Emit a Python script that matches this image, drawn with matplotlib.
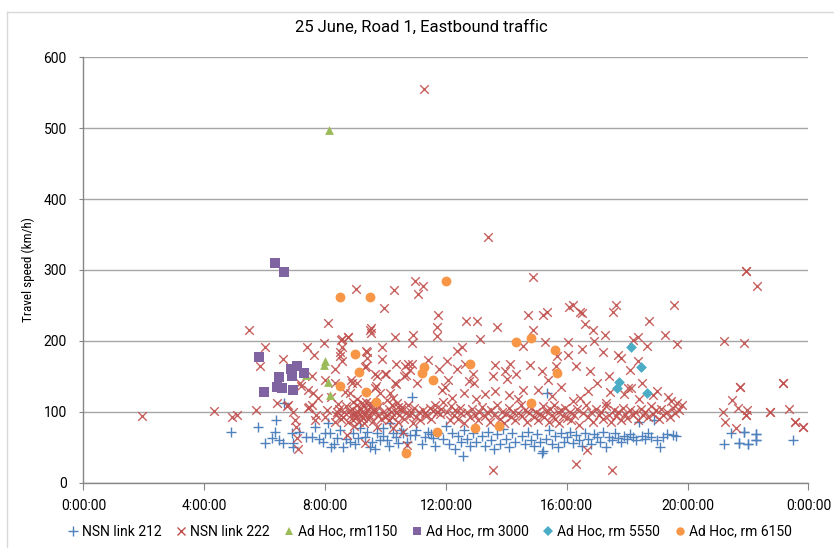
import matplotlib.pyplot as plt
from matplotlib.lines import Line2D

plt.rcParams['font.family'] = ['Roboto', 'DejaVu Sans']
narrow_font = ['Roboto Condensed', 'Roboto', 'DejaVu Sans']

title = "25 June, Road 1, Eastbound traffic"
ylabel = "Travel speed (km/h)"
hour_ticks = [0, 4, 8, 12, 16, 20, 24]
tick_labels = ["0:00:00", "4:00:00", "8:00:00", "12:00:00", "16:00:00", "20:00:00", "0:00:00"]
series_names = ["NSN link 212", "NSN link 222", "Ad Hoc, rm1150",
                "Ad Hoc, rm 3000", "Ad Hoc, rm 5550", "Ad Hoc, rm 6150"]

# (hour of day, km/h)
nsn212 = [
    (4.89, 71), (5.79, 78), (6.00, 56), (6.23, 63), (6.34, 72), (6.36, 89), (6.48, 60),
    (6.59, 56), (6.65, 113), (6.89, 70), (6.95, 56), (6.95, 51), (7.14, 71), (7.37, 65),
    (7.55, 65), (7.66, 79), (7.80, 62), (7.94, 58), (8.00, 70), (8.10, 84), (8.16, 70),
    (8.21, 51), (8.30, 55), (8.38, 63), (8.50, 74), (8.60, 51), (8.70, 62), (8.82, 58),
    (8.93, 70), (9.00, 54), (9.10, 63), (9.15, 77), (9.32, 65), (9.40, 72), (9.49, 51),
    (9.55, 58), (9.65, 48), (9.70, 70), (9.81, 60), (9.90, 66), (9.93, 77), (10.04, 60),
    (10.10, 52), (10.15, 84), (10.26, 70), (10.35, 64), (10.42, 56), (10.50, 75),
    (10.59, 70), (10.70, 58), (10.81, 67), (10.86, 121), (10.97, 67), (11.00, 74),
    (11.20, 55), (11.30, 65), (11.41, 72), (11.50, 68), (11.58, 63), (11.65, 52),
    (11.74, 70), (11.90, 62), (12.00, 80), (12.10, 55), (12.20, 70), (12.30, 48),
    (12.40, 66), (12.50, 58), (12.55, 37), (12.60, 75), (12.70, 62), (12.80, 52),
    (12.90, 70), (13.00, 57), (13.20, 66), (13.30, 52), (13.40, 72), (13.50, 60),
    (13.60, 48), (13.70, 68), (13.80, 55), (13.90, 76), (14.00, 62), (14.10, 50),
    (14.20, 70), (14.30, 58), (14.50, 66), (14.60, 55), (14.70, 72), (14.80, 60),
    (14.90, 52), (15.00, 68), (15.10, 57), (15.17, 42), (15.22, 44), (15.30, 62),
    (15.33, 127), (15.40, 75), (15.50, 55), (15.60, 66), (15.70, 50), (15.80, 70),
    (15.90, 58), (16.00, 64), (16.10, 72), (16.20, 56), (16.30, 67), (16.40, 60),
    (16.50, 52), (16.60, 70), (16.70, 62), (16.80, 55), (16.90, 68), (17.00, 64),
    (17.10, 58), (17.20, 72), (17.30, 51), (17.40, 65), (17.50, 60), (17.60, 70),
    (17.70, 63), (17.80, 58), (17.90, 66), (18.00, 62), (18.10, 69), (18.20, 64),
    (18.30, 60), (18.40, 86), (18.50, 66), (18.60, 62), (18.70, 70), (18.80, 65),
    (18.90, 88), (19.00, 60), (19.08, 51), (19.20, 64), (19.30, 68), (19.52, 67),
    (19.60, 66),
    (21.21, 55), (21.43, 70), (21.71, 56), (21.71, 56), (21.87, 72), (21.87, 72),
    (21.99, 54), (21.99, 54), (22.26, 69), (22.26, 69), (22.26, 60), (22.26, 60),
    (23.48, 60),
]

nsn222 = [
    (1.95, 94), (4.33, 101), (4.91, 93), (5.09, 96), (5.47, 216), (5.71, 103),
    (5.84, 165), (6.00, 191), (6.40, 113), (6.59, 175), (6.73, 108), (6.78, 109),
    (6.92, 99), (7.00, 88), (7.03, 78), (7.08, 63), (7.11, 47), (7.17, 140),
    (7.20, 137), (7.39, 191), (7.42, 131), (7.44, 105), (7.48, 107), (7.55, 150),
    (7.55, 110), (7.60, 126), (7.63, 180), (7.66, 89), (7.69, 96), (7.77, 119),
    (7.97, 197), (7.99, 145), (8.00, 93), (8.05, 103), (8.09, 225), (8.18, 121),
    (8.32, 140), (8.33, 161), (8.33, 86), (8.38, 100), (8.43, 111), (8.49, 185),
    (8.49, 178), (8.53, 201), (8.55, 192), (8.55, 171), (8.57, 203), (8.60, 93),
    (8.66, 128), (8.71, 67), (8.74, 206), (8.77, 205), (8.82, 126), (8.85, 145),
    (8.88, 140), (8.93, 114), (8.93, 88), (9.00, 95), (9.02, 273), (9.04, 140),
    (9.04, 110), (9.21, 112), (9.25, 91), (9.31, 163), (9.32, 56), (9.35, 186),
    (9.35, 164), (9.36, 114), (9.39, 176), (9.39, 185), (9.47, 107), (9.48, 215),
    (9.52, 211), (9.52, 218), (9.65, 100), (9.65, 153), (9.66, 133), (9.68, 136),
    (9.70, 79), (9.71, 150), (9.81, 126), (9.87, 192), (9.89, 175), (9.94, 246),
    (9.97, 153), (9.98, 93), (10.01, 153), (10.04, 117), (10.15, 126), (10.20, 110),
    (10.26, 119), (10.26, 77), (10.28, 272), (10.30, 206), (10.31, 141), (10.33, 168),
    (10.33, 139), (10.37, 112), (10.42, 107), (10.53, 107), (10.57, 72), (10.62, 150),
    (10.63, 165), (10.68, 152), (10.70, 53), (10.73, 168), (10.81, 159), (10.87, 168),
    (10.88, 197), (10.90, 209), (10.92, 84), (10.96, 284), (11.03, 141), (11.06, 266),
    (11.24, 278), (11.25, 103), (11.27, 555), (11.30, 98), (11.41, 173), (11.47, 105),
    (11.64, 110), (11.69, 100), (11.69, 220), (11.70, 207), (11.72, 237), (11.77, 160),
    (11.86, 131), (11.91, 114), (11.97, 135), (12.02, 171), (12.08, 145), (12.20, 120),
    (12.35, 186), (12.35, 161), (12.52, 191), (12.60, 126), (12.63, 168), (12.66, 228),
    (12.75, 143), (12.90, 154), (12.92, 140), (13.00, 118), (13.04, 228), (13.12, 203),
    (13.30, 125), (13.38, 346), (13.57, 150), (13.57, 18), (13.62, 166), (13.62, 130),
    (13.68, 220), (13.95, 157), (14.01, 146), (14.10, 124), (14.12, 167), (14.32, 154),
    (14.40, 118), (14.56, 193), (14.56, 131), (14.72, 237), (14.78, 166), (14.87, 290),
    (14.89, 216), (15.06, 131), (15.17, 157), (15.22, 237), (15.29, 199), (15.35, 241),
    (15.39, 145), (15.50, 122), (15.64, 164), (15.66, 179), (15.80, 135), (16.03, 199),
    (16.05, 180), (16.08, 248), (16.19, 251), (16.20, 115), (16.30, 27), (16.32, 164),
    (16.44, 241), (16.45, 120), (16.49, 188), (16.51, 239), (16.60, 224), (16.66, 46),
    (16.70, 130), (16.77, 157), (16.86, 216), (16.90, 200), (17.00, 140), (17.21, 185),
    (17.26, 209), (17.30, 112), (17.40, 150), (17.43, 128), (17.48, 18), (17.54, 241),
    (17.63, 250), (17.70, 180), (17.80, 176), (17.90, 125), (18.03, 133), (18.09, 159),
    (18.14, 133), (18.20, 201), (18.37, 206), (18.37, 171), (18.40, 118), (18.50, 140),
    (18.66, 193), (18.72, 228), (18.86, 124), (19.00, 130), (19.25, 209), (19.36, 121),
    (19.45, 115), (19.55, 250), (19.64, 112), (19.66, 196), (19.80, 110),
    # morning-to-evening band around 100 km/h
    (8.35, 96), (8.45, 104), (8.52, 90), (8.62, 99), (8.68, 108), (8.75, 85),
    (8.80, 101), (8.86, 95), (8.90, 104), (8.95, 80), (8.98, 98), (9.02, 92),
    (9.06, 118), (9.10, 100), (9.12, 86), (9.15, 105), (9.18, 94), (9.22, 99),
    (9.28, 108), (9.30, 84), (9.33, 97), (9.40, 102), (9.42, 90), (9.45, 95),
    (9.50, 112), (9.55, 99), (9.58, 87), (9.62, 104), (9.75, 96), (9.78, 108),
    (9.85, 90), (9.92, 100), (10.05, 96), (10.10, 88), (10.12, 104), (10.18, 99),
    (10.22, 93), (10.35, 100), (10.40, 85), (10.45, 95), (10.50, 102), (10.60, 90),
    (10.66, 98), (10.75, 110), (10.80, 95), (10.85, 100), (10.95, 105), (11.00, 92),
    (11.10, 99), (11.15, 88), (11.35, 94), (11.52, 90), (11.58, 101), (11.80, 97),
    (11.84, 104), (12.05, 100), (12.12, 88), (12.18, 108), (12.25, 95), (12.30, 102),
    (12.40, 90), (12.45, 106), (12.50, 98), (12.58, 84), (12.70, 100), (12.78, 92),
    (12.85, 104), (12.95, 96), (13.05, 88), (13.10, 100), (13.20, 107), (13.28, 94),
    (13.35, 99), (13.45, 86), (13.50, 102), (13.60, 95), (13.70, 110), (13.78, 90),
    (13.85, 100), (13.92, 84), (14.00, 97), (14.08, 105), (14.15, 92), (14.22, 100),
    (14.30, 88), (14.40, 98), (14.48, 110), (14.52, 94), (14.60, 102), (14.68, 86),
    (14.75, 98), (14.82, 106), (14.90, 92), (14.98, 100), (15.05, 88), (15.12, 97),
    (15.20, 108), (15.25, 93), (15.32, 101), (15.40, 86), (15.45, 104), (15.52, 95),
    (15.58, 110), (15.62, 90), (15.70, 99), (15.75, 84), (15.82, 102), (15.88, 94),
    (15.95, 106), (16.00, 91), (16.10, 100), (16.15, 88), (16.25, 96), (16.35, 104),
    (16.40, 82), (16.55, 98), (16.62, 110), (16.70, 92), (16.80, 100), (16.88, 86),
    (16.95, 104), (17.05, 95), (17.12, 100), (17.20, 90), (17.30, 108), (17.38, 96),
    (17.45, 85), (17.55, 102), (17.62, 94), (17.70, 100), (17.78, 88), (17.85, 106),
    (17.92, 97), (18.00, 91), (18.08, 103), (18.18, 96), (18.25, 100), (18.35, 88),
    (18.45, 104), (18.52, 95), (18.60, 100), (18.70, 92), (18.78, 108), (18.85, 97),
    (18.95, 102), (19.05, 90), (19.12, 104), (19.20, 96), (19.30, 100), (19.40, 92),
    (19.50, 106), (19.58, 98), (19.70, 103),
    # late evening
    (21.16, 99), (21.21, 200), (21.24, 85), (21.46, 117), (21.60, 77), (21.68, 105),
    (21.73, 135), (21.73, 135), (21.87, 197), (21.92, 95), (21.92, 95), (21.93, 298),
    (21.93, 298), (21.95, 103), (22.28, 278), (22.72, 99), (22.72, 99), (23.15, 141),
    (23.15, 141), (23.36, 104), (23.55, 85), (23.55, 85), (23.81, 78), (23.81, 78),
]

rm1150 = [(7.38, 152), (7.95, 166), (8.00, 172), (8.10, 142), (8.13, 497), (8.17, 124)]

rm3000 = [(5.82, 177), (5.98, 128), (6.34, 310), (6.40, 135), (6.48, 149), (6.58, 133),
          (6.63, 297), (6.88, 161), (6.91, 151), (6.94, 131), (7.06, 165), (7.30, 155)]

rm5550 = [(17.66, 133), (17.74, 142), (18.12, 192), (18.46, 163), (18.64, 126)]

rm6150 = [(8.49, 136), (8.50, 262), (9.00, 182), (9.12, 156), (9.34, 128), (9.49, 262),
          (9.67, 114), (10.66, 42), (11.19, 155), (11.26, 163), (11.56, 145), (11.70, 72),
          (12.01, 284), (12.81, 167), (12.97, 77), (13.76, 80), (14.33, 198), (14.80, 204),
          (14.80, 112), (15.62, 187), (15.67, 155)]

blue = '#4F81BD'
red = '#C0504D'
green = '#9BBB59'
purple = '#8064A2'
teal = '#4BACC6'
orange = '#F79646'
grid_grey = '#A6A6A6'

fig = plt.figure(figsize=(8.34, 5.48), dpi=100)
ax = fig.add_axes([0.1001, 0.1192, 0.8693, 0.7762])


def split(points):
    return [p[0] for p in points], [p[1] for p in points]


x, y = split(nsn212)
ax.scatter(x, y, marker='+', s=44, color=blue, linewidths=1.0, zorder=3)
x, y = split(nsn222)
ax.scatter(x, y, marker='x', s=38, color=red, linewidths=1.0, alpha=0.9, zorder=3)
x, y = split(rm1150)
ax.scatter(x, y, marker='^', s=40, color=green, linewidths=0, zorder=4)
x, y = split(rm3000)
ax.scatter(x, y, marker='s', s=50, color=purple, linewidths=0, zorder=4)
x, y = split(rm5550)
ax.scatter(x, y, marker='D', s=30, color=teal, linewidths=0, zorder=4)
x, y = split(rm6150)
ax.scatter(x, y, marker='o', s=50, color=orange, linewidths=0, zorder=4)

ax.set_xlim(0, 24)
ax.set_ylim(0, 600)
ax.set_xticks(hour_ticks)
ax.set_xticklabels(tick_labels)
ax.set_yticks(range(0, 601, 100))
ax.yaxis.grid(True, color=grid_grey, linewidth=1.0)
ax.set_axisbelow(True)

for side in ('top', 'right'):
    ax.spines[side].set_visible(False)
for side in ('left', 'bottom'):
    ax.spines[side].set_color('#868686')
    ax.spines[side].set_linewidth(1.0)
ax.tick_params(axis='x', direction='out', length=5, color='#868686', labelsize=10, pad=7)
ax.tick_params(axis='y', direction='out', length=3, color='#868686', labelsize=10, pad=9)

ax.set_ylabel(ylabel, fontsize=9.5, labelpad=6, family=narrow_font)
fig.text(0.505, 0.951, title, ha='center', va='center', fontsize=12)

handles = [
    Line2D([], [], marker='+', color=blue, linestyle='', markersize=7, markeredgewidth=1.0),
    Line2D([], [], marker='x', color=red, linestyle='', markersize=6, markeredgewidth=1.0),
    Line2D([], [], marker='^', color=green, linestyle='', markersize=6, markeredgewidth=0),
    Line2D([], [], marker='s', color=purple, linestyle='', markersize=6, markeredgewidth=0),
    Line2D([], [], marker='D', color=teal, linestyle='', markersize=5, markeredgewidth=0),
    Line2D([], [], marker='o', color=orange, linestyle='', markersize=6, markeredgewidth=0),
]
fig.legend(handles, series_names, loc='center', bbox_to_anchor=(0.515, 0.03), ncol=6,
           frameon=False, prop={'size': 10}, handlelength=0.8,
           handletextpad=0.25, columnspacing=1.0, borderaxespad=0)

# chart area border
fig.add_artist(Line2D([0.0084, 0.0084], [0.0, 0.978], color='#D9D9D9', linewidth=1.0))
fig.add_artist(Line2D([0.0084, 1.0], [0.978, 0.978], color='#D9D9D9', linewidth=1.0))

fig.savefig('out.png', dpi=100)
